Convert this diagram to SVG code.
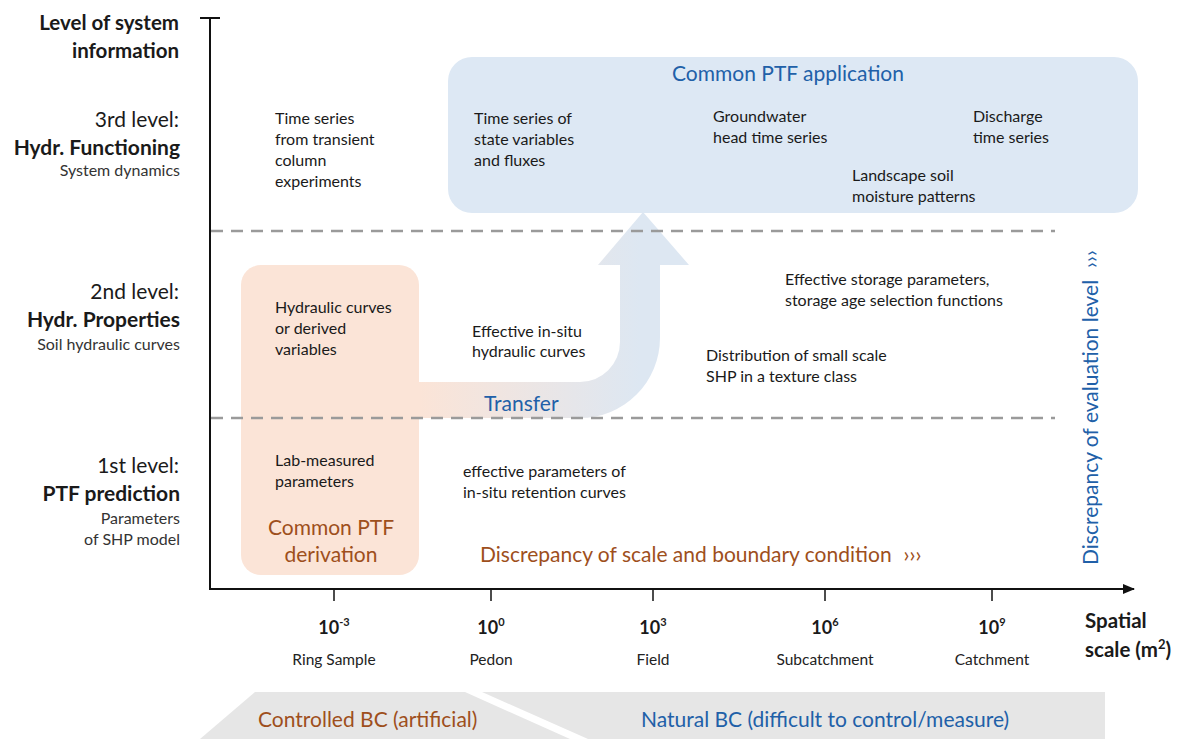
<svg xmlns="http://www.w3.org/2000/svg" width="1181" height="739" viewBox="0 0 1181 739">
<style>
text{font-family:Lato,"Noto Sans",sans-serif;fill:#1a1a1a}
.h{font-size:20.5px;font-weight:bold}
.lv{font-size:21px}
.lb{font-size:21px;font-weight:bold}
.ls{font-size:16px;fill:#333}
.t{font-size:16px}
.brown{fill:#9e4f1c;font-size:21px}
.blue{fill:#2160a8;font-size:21px}
.tick{font-size:18px;font-weight:bold}
.scl{font-size:15.5px;fill:#222}
.dash{stroke:#9a9a9a;stroke-width:2.5;stroke-dasharray:12 8;fill:none}
.ax{stroke:#111;stroke-width:2;fill:none}
.tk{stroke:#111;stroke-width:1.5}
</style>
<defs>
<linearGradient id="tg" gradientUnits="userSpaceOnUse" x1="420" y1="0" x2="640" y2="0">
<stop offset="0" stop-color="#fbe4d7"/>
<stop offset="1" stop-color="#dde7f2"/>
</linearGradient>
<marker id="arr" markerWidth="12" markerHeight="10" refX="11" refY="5" orient="auto" markerUnits="userSpaceOnUse">
<polygon points="0,0 12,5 0,10" fill="#111"/>
</marker>
</defs>
<rect width="1181" height="739" fill="#fff"/>

<g id="bc-band">
<polygon points="200,739 255,692 465,692 570,739" fill="#e6e6e6"/>
<polygon points="482,692 1105,692 1105,739 588,739" fill="#e6e6e6"/>
<text class="brown" x="258" y="727">Controlled BC (artificial)</text>
<text class="blue" x="641" y="727">Natural BC (difficult to control/measure)</text>
</g>

<g id="ptf-application">
<rect x="448" y="57" width="690" height="156" rx="24" fill="#dde8f4"/>
<text class="blue" x="788" y="81" text-anchor="middle">Common PTF application</text>
<text class="t" x="474" y="124">Time series of</text>
<text class="t" x="474" y="145">state variables</text>
<text class="t" x="474" y="166">and fluxes</text>
<text class="t" x="713" y="122">Groundwater</text>
<text class="t" x="713" y="143">head time series</text>
<text class="t" x="973" y="122">Discharge</text>
<text class="t" x="973" y="143">time series</text>
<text class="t" x="852" y="181">Landscape soil</text>
<text class="t" x="852" y="202">moisture patterns</text>
</g>

<g id="ptf-derivation">
<rect x="241" y="265" width="178" height="310" rx="20" fill="#fbe4d7"/>
<text class="t" x="275" y="313">Hydraulic curves</text>
<text class="t" x="275" y="334">or derived</text>
<text class="t" x="275" y="355">variables</text>
<text class="t" x="275" y="466">Lab-measured</text>
<text class="t" x="275" y="487">parameters</text>
<text class="brown" x="331" y="535" text-anchor="middle">Common PTF</text>
<text class="brown" x="331" y="562" text-anchor="middle">derivation</text>
</g>

<g id="connectors">
<path d="M 419 382 L 580 382 A 40 40 0 0 0 620 342 L 620 265 L 598 265 L 643 212 L 689 265 L 660 265 L 660 338 A 80 80 0 0 1 580 418 L 419 418 Z" fill="url(#tg)"/>
<text class="blue" x="484" y="411">Transfer</text>
</g>

<g id="level-lines">
<line class="dash" x1="211" y1="231" x2="1055" y2="231"/>
<line class="dash" x1="211" y1="418" x2="1055" y2="418"/>
</g>

<g id="axes">
<line class="ax" x1="210" y1="18" x2="210" y2="590"/>
<line class="ax" x1="200" y1="18" x2="220" y2="18"/>
<line class="ax" x1="209" y1="589" x2="1134" y2="589" marker-end="url(#arr)"/>
<line class="tk" x1="334" y1="589" x2="334" y2="601"/>
<line class="tk" x1="491" y1="589" x2="491" y2="601"/>
<line class="tk" x1="653" y1="589" x2="653" y2="601"/>
<line class="tk" x1="825" y1="589" x2="825" y2="601"/>
<line class="tk" x1="992" y1="589" x2="992" y2="601"/>
</g>

<g id="y-labels">
<text class="h" x="179" y="30" text-anchor="end">Level of system</text>
<text class="h" x="179" y="58" text-anchor="end">information</text>
<text class="lv" x="179" y="127" text-anchor="end">3rd level:</text>
<text class="lb" x="180" y="155" text-anchor="end">Hydr. Functioning</text>
<text class="ls" x="180" y="176" text-anchor="end">System dynamics</text>
<text class="lv" x="179" y="299" text-anchor="end">2nd level:</text>
<text class="lb" x="180" y="327" text-anchor="end">Hydr. Properties</text>
<text class="ls" x="180" y="350" text-anchor="end">Soil hydraulic curves</text>
<text class="lv" x="179" y="473" text-anchor="end">1st level:</text>
<text class="lb" x="180" y="501" text-anchor="end">PTF prediction</text>
<text class="ls" x="180" y="524" text-anchor="end">Parameters</text>
<text class="ls" x="180" y="545" text-anchor="end">of SHP model</text>
</g>

<g id="x-labels">
<text class="tick" x="334" y="634" text-anchor="middle">10<tspan font-size="11" dy="-8">-3</tspan></text>
<text class="tick" x="491" y="634" text-anchor="middle">10<tspan font-size="11" dy="-8">0</tspan></text>
<text class="tick" x="653" y="634" text-anchor="middle">10<tspan font-size="11" dy="-8">3</tspan></text>
<text class="tick" x="825" y="634" text-anchor="middle">10<tspan font-size="11" dy="-8">6</tspan></text>
<text class="tick" x="992" y="634" text-anchor="middle">10<tspan font-size="11" dy="-8">9</tspan></text>
<text class="scl" x="334" y="665" text-anchor="middle">Ring Sample</text>
<text class="scl" x="491" y="665" text-anchor="middle">Pedon</text>
<text class="scl" x="653" y="665" text-anchor="middle">Field</text>
<text class="scl" x="825" y="665" text-anchor="middle">Subcatchment</text>
<text class="scl" x="992" y="665" text-anchor="middle">Catchment</text>
<text class="h" x="1085" y="628">Spatial</text>
<text class="h" x="1085" y="657">scale (m<tspan font-size="13" dy="-8">2</tspan><tspan dy="8">)</tspan></text>
</g>

<g id="level-items">
<text class="t" x="275" y="124">Time series</text>
<text class="t" x="275" y="145">from transient</text>
<text class="t" x="275" y="166">column</text>
<text class="t" x="275" y="187">experiments</text>
<text class="t" x="472" y="337">Effective in-situ</text>
<text class="t" x="472" y="357">hydraulic curves</text>
<text class="t" x="785" y="285">Effective storage parameters,</text>
<text class="t" x="785" y="306">storage age selection functions</text>
<text class="t" x="706" y="361">Distribution of small scale</text>
<text class="t" x="706" y="382">SHP in a texture class</text>
<text class="t" x="463" y="477">effective parameters of</text>
<text class="t" x="463" y="498">in-situ retention curves</text>
</g>

<g id="discrepancy">
<text class="brown" x="480" y="562">Discrepancy of scale and boundary condition<tspan dx="12">›››</tspan></text>
<text class="blue" x="1098" y="565" transform="rotate(-90 1098 565)">Discrepancy of evaluation level<tspan dx="12">›››</tspan></text>
</g>
</svg>
